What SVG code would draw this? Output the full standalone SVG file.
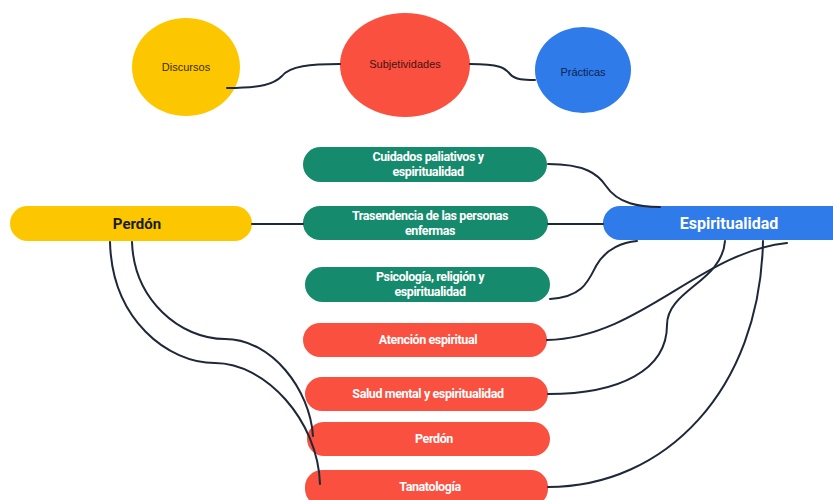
<svg xmlns="http://www.w3.org/2000/svg" width="833" height="500" viewBox="0 0 833 500">
<style>
.ln{fill:none;stroke:#1e2838;stroke-width:2;stroke-linecap:round}
.g{fill:#168a6c}
.r{fill:#f9503f}
.pt{font-family:Roboto,"Liberation Sans",sans-serif;font-weight:bold;font-size:12.5px;fill:#ffffff;text-anchor:middle;letter-spacing:-0.4px}
.et{font-family:"Liberation Sans",Arial,sans-serif;font-size:11px;text-anchor:middle}
</style>
<rect width="833" height="500" fill="#ffffff"/>
<g id="discursos">
<ellipse cx="186" cy="67" rx="54" ry="49" fill="#fdc700"/>
<text class="et" x="186" y="71" fill="#3a2c00">Discursos</text>
</g>
<g id="subjetividades">
<ellipse cx="405" cy="65" rx="65" ry="52" fill="#f9503f"/>
<text class="et" x="405" y="68" fill="#4a1010">Subjetividades</text>
</g>
<g id="practicas">
<ellipse cx="583" cy="70" rx="48" ry="43" fill="#2f7bea"/>
<text class="et" x="583" y="76" fill="#0d2350">Prácticas</text>
</g>
<g id="perdon-main">
<rect x="10" y="206" width="242" height="35" rx="17.5" fill="#fdc700"/>
<text x="137" y="229" font-family="Roboto,'Liberation Sans',sans-serif" font-weight="bold" font-size="15" fill="#1a1a1a" text-anchor="middle">Perdón</text>
</g>
<g id="espiritualidad">
<rect x="603" y="206" width="245" height="34" rx="17" fill="#2f7bea"/>
<text x="729" y="229" font-family="Roboto,'Liberation Sans',sans-serif" font-weight="bold" font-size="16" fill="#ffffff" text-anchor="middle">Espiritualidad</text>
</g>
<g id="cuidados">
<rect class="g" x="303" y="147" width="244" height="35" rx="17.5"/>
<text class="pt" x="428" y="161">Cuidados paliativos y</text>
<text class="pt" x="428" y="176">espiritualidad</text>
</g>
<g id="trasendencia">
<rect class="g" x="303" y="206" width="245" height="34" rx="17"/>
<text class="pt" x="430" y="220">Trasendencia de las personas</text>
<text class="pt" x="430" y="235">enfermas</text>
</g>
<g id="psicologia">
<rect class="g" x="305" y="267" width="245" height="35" rx="17.5"/>
<text class="pt" x="430" y="281">Psicología, religión y</text>
<text class="pt" x="430" y="296">espiritualidad</text>
</g>
<g id="atencion">
<rect class="r" x="303" y="323" width="244" height="34" rx="17"/>
<text class="pt" x="428" y="344">Atención espiritual</text>
</g>
<g id="salud">
<rect class="r" x="305" y="377" width="243" height="34" rx="17"/>
<text class="pt" x="428" y="398">Salud mental y espiritualidad</text>
</g>
<g id="perdon-red">
<rect class="r" x="307" y="422" width="243" height="34" rx="17"/>
<text class="pt" x="434" y="443">Perdón</text>
</g>
<g id="tanatologia">
<rect class="r" x="305" y="470" width="243" height="36" rx="17"/>
<text class="pt" x="430" y="491">Tanatología</text>
</g>
<g id="connectors">
<path class="ln" d="M227,88 C262,88 274,84 282,76 C290,66 310,64 340,64"/>
<path class="ln" d="M470,64 C500,64 505,68 510,74 C515,80 525,80 535,80"/>
<path class="ln" d="M252,224 L303,224"/>
<path class="ln" d="M548,224 L603,224"/>
<path class="ln" d="M548,164 C585,164 598,174 606,186 C618,204 640,207 660,207"/>
<path class="ln" d="M550,299 C582,297 588,282 596,266 C606,248 624,242 637,241"/>
<path class="ln" d="M547,340 C640,338 700,252 787,243"/>
<path class="ln" d="M548,394 C620,394 667,370 667,325 C667,290 722,282 725,241"/>
<path class="ln" d="M548,487 C665,487 760,390 763,241"/>
<path class="ln" d="M110,242 C112,320 168,363 215,363 C265,363 318,420 320,484"/>
<path class="ln" d="M132,242 C134,300 180,339 225,339 C272,339 310,390 313,436"/>
</g>
</svg>
